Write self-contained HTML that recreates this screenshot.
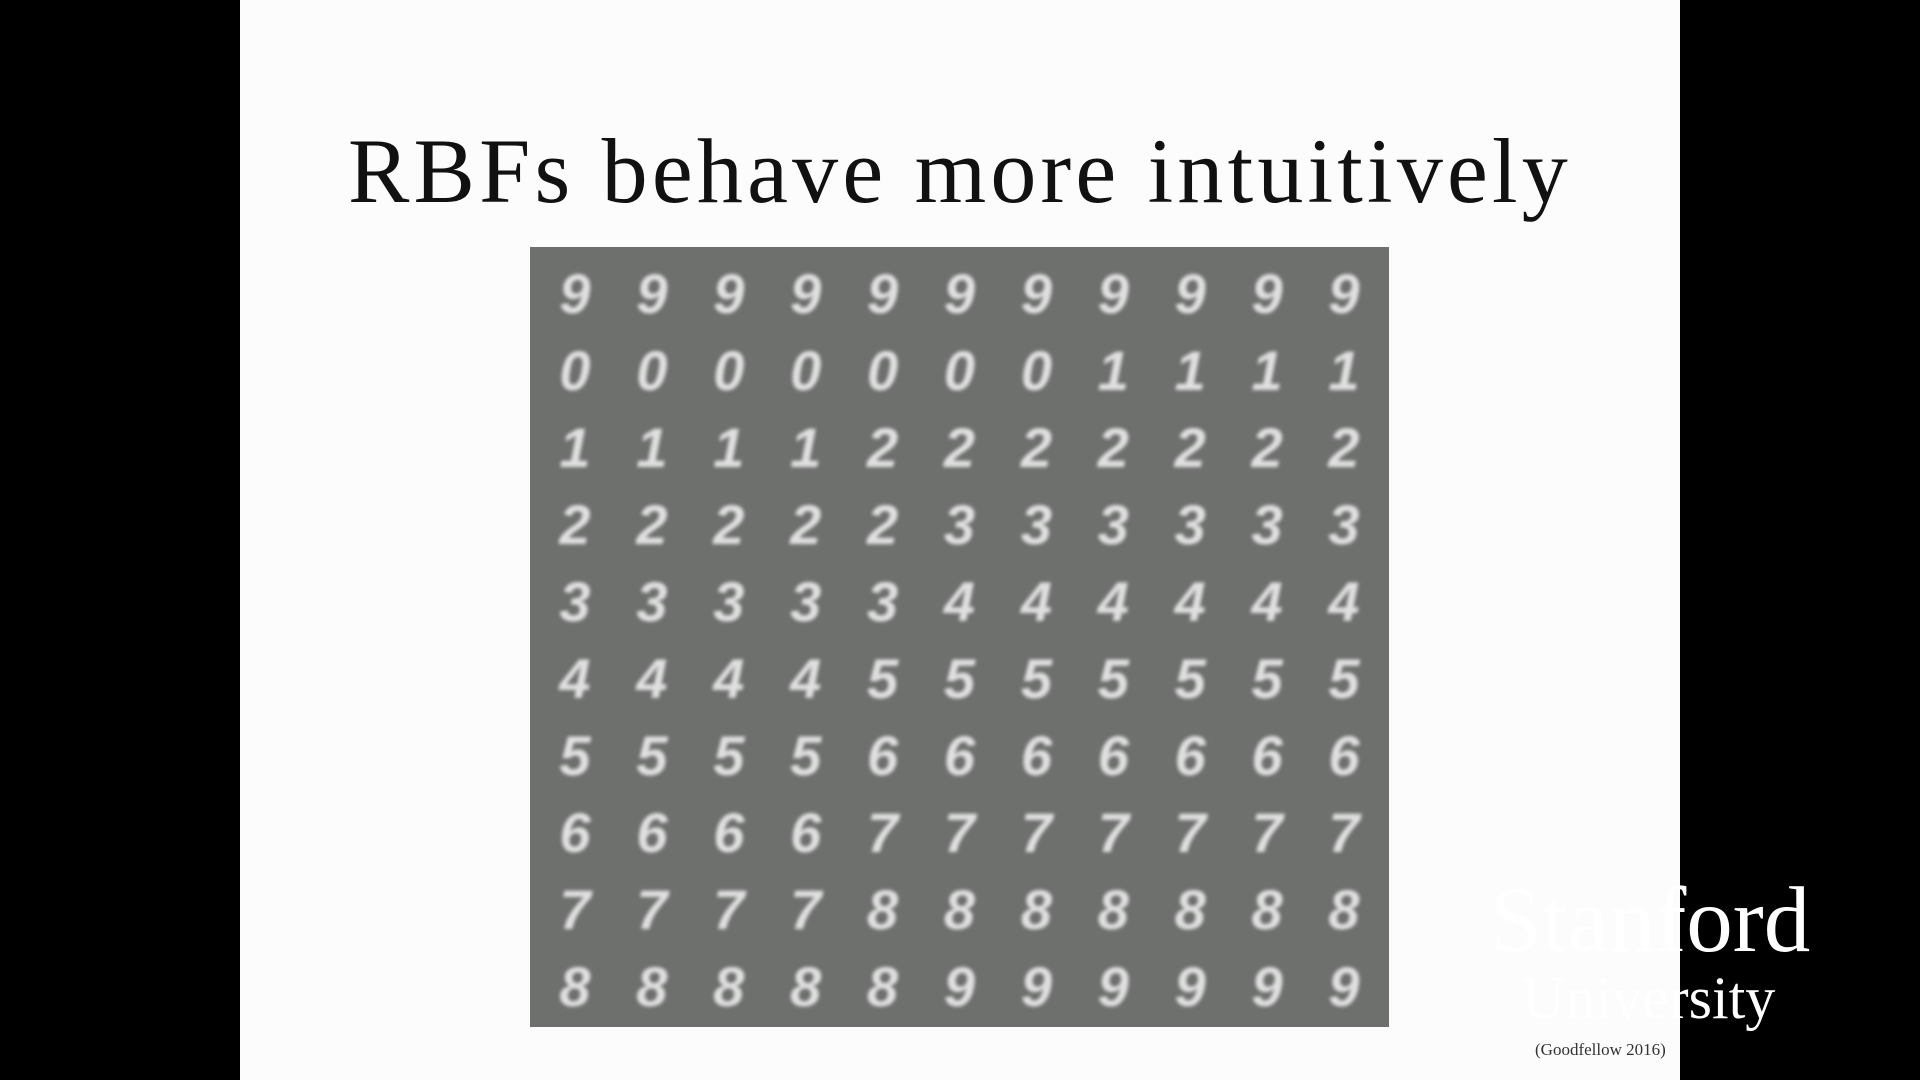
<!DOCTYPE html>
<html><head><meta charset="utf-8">
<style>
html,body{margin:0;padding:0;width:1920px;height:1080px;background:#000;overflow:hidden;font-family:"Liberation Serif",serif}
#slide{position:absolute;left:240px;top:0;width:1440px;height:1080px;background:#fcfcfc}
#title{position:absolute;left:240px;width:1440px;top:118px;text-align:center;font-size:92px;color:#111;white-space:nowrap;letter-spacing:4.2px}
#grid{position:absolute;left:530px;top:247px;width:859px;height:780px;background:#6e706e}
.dg{position:absolute;width:76px;height:76px;line-height:76px;text-align:center;font-size:56px;font-style:italic;color:#e0e0e0;filter:blur(1.8px);font-family:"Liberation Sans",sans-serif;font-weight:bold}
#stan{position:absolute;left:1490px;top:874px;font-size:93px;color:#fff;line-height:1}
#univ{position:absolute;left:1522px;top:968px;font-size:60px;color:#fff;line-height:1}
#cite{position:absolute;left:1535px;top:1040px;font-size:17px;color:#333}
</style></head><body>
<div id="slide"></div>
<div id="title">RBFs behave more intuitively</div>
<div id="grid"></div>
<div id="stan">Stanford</div>
<div id="univ">University</div>
<div id="cite">(Goodfellow 2016)</div>
<script>
const rowDigits = [
"99999999999",
"00000001111",
"11112222222",
"22222333333",
"33333444444",
"44445555555",
"55556666666",
"66667777777",
"77778888888",
"88888999999"
];
const grid = document.getElementById('grid');
const cellW = 76.9, cellH = 77, offX = 7, offY = 9;
rowDigits.forEach((row, r) => {
  row.split('').forEach((ch, c) => {
    const d = document.createElement('div');
    d.className = 'dg';
    
    
    d.style.left = (offX + c * cellW) + 'px';
    d.style.top = (offY + r * cellH) + 'px';
    d.textContent = ch;
    grid.appendChild(d);
  });
});
</script>
</body></html>
